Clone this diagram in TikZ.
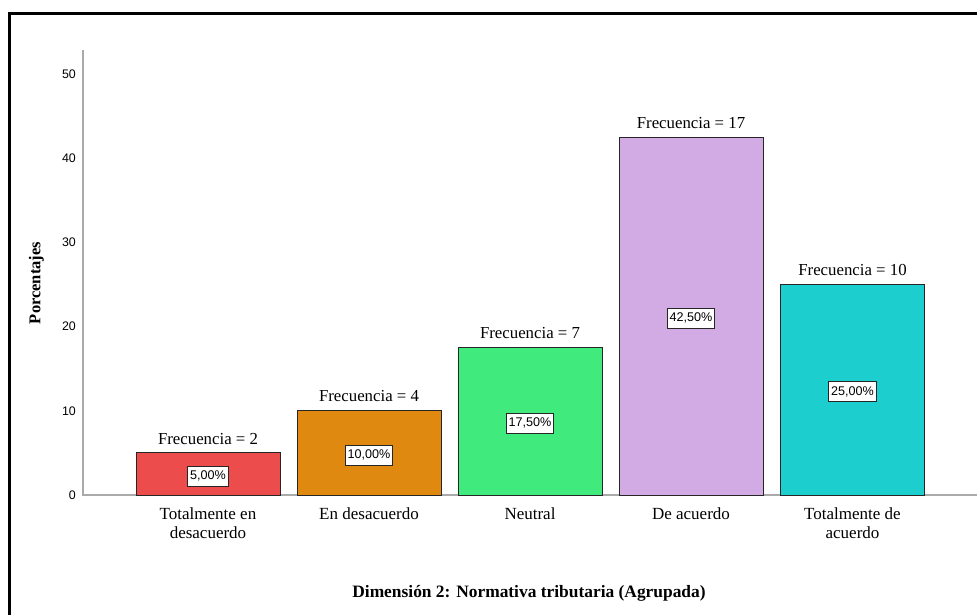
\documentclass[tikz,border=0pt]{standalone}
\usepackage{fontspec}
\setmainfont{Liberation Serif}
\setsansfont{Liberation Sans}
\usetikzlibrary{positioning}

\definecolor{barred}{RGB}{237,76,76}
\definecolor{barorange}{RGB}{224,137,16}
\definecolor{bargreen}{RGB}{64,234,125}
\definecolor{barlilac}{RGB}{210,170,228}
\definecolor{barcyan}{RGB}{29,206,206}
\definecolor{axisgray}{RGB}{170,170,170}

\tikzset{
  BarStyle/.style = {draw=black!85, line width=.9pt, minimum width=144pt,
                     inner sep=0pt, outer sep=0pt, anchor=south},
  PctStyle/.style = {draw=black!85, fill=white, line width=.8pt,
                     font=\sffamily\fontsize{12.6}{13}\selectfont,
                     inner xsep=2.5pt, inner ysep=4.5pt, text height=9pt, text depth=2pt},
  FreqStyle/.style = {font=\fontsize{16.8}{18}\selectfont, inner sep=1pt},
  CatStyle/.style = {font=\fontsize{17}{19}\selectfont, align=center, inner sep=0pt},
  TickStyle/.style = {font=\sffamily\fontsize{12.4}{13}\selectfont, anchor=east, inner sep=0pt}
}

\begin{document}
\begin{tikzpicture}[x=1pt,y=1pt]

\useasboundingbox (0,0) rectangle (977,614);
\draw[line width=3pt] (9.5,-5) |- (990,600.5);

\draw[axisgray, line width=1.6pt] (83,564) -- (83,119) -- (977,119);
\foreach \v in {0,10,...,50}
  \node[TickStyle] (t\v) at (76,{119+8.42*\v}) {\v};

\node[BarStyle, fill=barred,    minimum height=42.1pt]  (b1) at (208,119) {};
\node[BarStyle, fill=barorange, minimum height=84.2pt]  (b2) at (369,119) {};
\node[BarStyle, fill=bargreen,  minimum height=147.35pt] (b3) at (530,119) {};
\node[BarStyle, fill=barlilac,  minimum height=357.85pt] (b4) at (691,119) {};
\node[BarStyle, fill=barcyan,   minimum height=210.5pt] (b5) at (852.5,119) {};

\node[PctStyle, yshift=-2pt] (p1) at (b1.center) {5,00\%};
\node[PctStyle, yshift=-2pt] (p2) at (b2.center) {10,00\%};
\node[PctStyle, yshift=-2pt] (p3) at (b3.center) {17,50\%};
\node[PctStyle, yshift=-2pt] (p4) at (b4.center) {42,50\%};
\node[PctStyle, yshift=-2pt] (p5) at (b5.center) {25,00\%};

\node[FreqStyle, above=7.5pt of b1] (f1) {Frecuencia = 2};
\node[FreqStyle, above=7.5pt of b2] (f2) {Frecuencia = 4};
\node[FreqStyle, above=7.5pt of b3] (f3) {Frecuencia = 7};
\node[FreqStyle, above=7.5pt of b4] (f4) {Frecuencia = 17};
\node[FreqStyle, above=7.5pt of b5] (f5) {Frecuencia = 10};

\node[CatStyle, below=13pt of b1] (c1) {Totalmente en\\desacuerdo};
\node[CatStyle, below=13pt of b2] (c2) {En desacuerdo};
\node[CatStyle, below=13pt of b3] (c3) {Neutral};
\node[CatStyle, below=13pt of b4] (c4) {De acuerdo};
\node[CatStyle, below=13pt of b5] (c5) {Totalmente de\\acuerdo};

\node[font=\bfseries\fontsize{16.5}{18}\selectfont, rotate=90] (ylab) at (36.5,331) {Porcentajes};
\node[font=\bfseries\fontsize{17.4}{19}\selectfont] (title) at (529,21) {Dimensión 2: Normativa tributaria (Agrupada)};

\end{tikzpicture}
\end{document}
